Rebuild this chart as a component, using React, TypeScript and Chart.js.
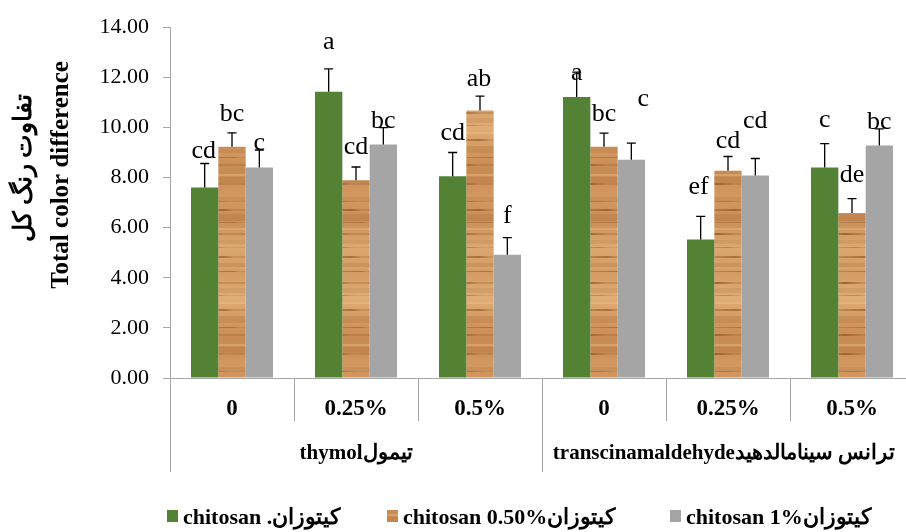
import React, { useEffect, useRef } from 'react';
import { Chart, registerables } from 'chart.js';

Chart.register(...registerables);

// ---------- data ----------
const subCategories = ['0', '0.25%', '0.5%', '0', '0.25%', '0.5%'];
const groupLabels = ['thymolتیمول', 'transcinamaldehydeترانس سینامالدهید'];
const groupSizes = [3, 3];
const seriesNames = ['chitosan .کیتوزان', 'chitosan 0.50%کیتوزان', 'chitosan 1%کیتوزان'];
const chitosan0 = [7.6, 11.42, 8.05, 11.21, 5.53, 8.4];
const chitosan050 = [9.23, 7.89, 10.68, 9.23, 8.27, 6.58];
const chitosan1 = [8.4, 9.32, 4.92, 8.71, 8.08, 9.28];
const err0 = [0.96, 0.92, 0.95, 1.0, 0.92, 0.95];
const err050 = [0.55, 0.53, 0.57, 0.54, 0.57, 0.58];
const err1 = [0.7, 0.67, 0.68, 0.66, 0.68, 0.66];
const letters0 = ['cd', 'a', 'cd', 'a', 'ef', 'c'];
const letters050 = ['bc', 'cd', 'ab', 'bc', 'cd', 'de'];
const letters1 = ['c', 'bc', 'f', 'c', 'cd', 'bc'];
const yTicksMin = 0;
const yTicksMax = 14;
const yTicksStep = 2;
const yTitleFa = 'تفاوت رنگ کل';
const yTitleEn = 'Total color difference';

// ---------- layout / style ----------
const W = 920;
const H = 532;
// label offsets [dx, dy above error-bar top] in px
const labelOffsets = [
  [[-1, 6], [0, 20], [0, 12], [0, -8], [-2, 22], [0, 17]],
  [[0, 12], [0, 13], [-1, 10], [0, 12], [0, 8], [0, 17]],
  [[0, 0], [0, 0], [0, 15], [12, 37], [0, 30], [0, 0]],
];
const SERIF = "'Liberation Serif', 'Times New Roman', 'DejaVu Serif', serif";
const GREEN = '#548235';
const GREY = '#a5a5a5';
const AXIS = '#a6a6a6';

function makeWood(): CanvasPattern | string {
  const PW = 64;
  const PH = 170;
  const c = document.createElement('canvas');
  c.width = PW;
  c.height = PH;
  const g = c.getContext('2d');
  if (!g) return '#d49a63';
  const grad = g.createLinearGradient(0, 0, 0, PH);
  grad.addColorStop(0, '#c88a53');
  grad.addColorStop(0.15, '#d39860');
  grad.addColorStop(0.3, '#cb8e57');
  grad.addColorStop(0.45, '#dca871');
  grad.addColorStop(0.6, '#d49b63');
  grad.addColorStop(0.75, '#e0ad76');
  grad.addColorStop(0.9, '#d2965e');
  grad.addColorStop(1, '#c88a53');
  g.fillStyle = grad;
  g.fillRect(0, 0, PW, PH);
  const bands: number[][] = [[7, 6, 0.16], [27, 4, 0.12], [44, 7, 0.18], [70, 4, 0.12], [93, 6, 0.16], [118, 5, 0.14], [146, 7, 0.18]];
  for (const [y, h, a] of bands) {
    g.fillStyle = `rgba(150,90,40,${a})`;
    g.fillRect(0, y, PW, h);
  }
  const streaks: number[][] = [
    [13, 2, 0.55], [31, 1, 0.4], [39, 2, 0.5], [52, 1, 0.35], [63, 2, 0.6], [77, 1, 0.35],
    [86, 2, 0.5], [101, 1, 0.45], [112, 2, 0.6], [125, 1, 0.35], [139, 2, 0.5], [157, 1, 0.4],
    [164, 2, 0.5],
  ];
  streaks.forEach(([y, h, a], k) => {
    const lg = g.createLinearGradient(0, 0, PW, 0);
    const shift = (k % 4) * 0.15;
    lg.addColorStop(0, `rgba(115,62,20,${a * 0.4})`);
    lg.addColorStop(0.2 + shift, `rgba(115,62,20,${a})`);
    lg.addColorStop(0.5 + shift / 2, `rgba(115,62,20,${a * 0.3})`);
    lg.addColorStop(1, `rgba(115,62,20,${a * 0.4})`);
    g.fillStyle = lg;
    g.fillRect(0, y, PW, h);
  });
  const lights: number[][] = [[4, 2], [58, 2], [97, 2], [132, 2]];
  for (const [y, h] of lights) {
    g.fillStyle = 'rgba(240,200,145,0.35)';
    g.fillRect(0, y, PW, h);
  }
  return g.createPattern(c, 'repeat') || '#d49a63';
}

export default function App() {
  const ref = useRef<HTMLCanvasElement | null>(null);

  useEffect(() => {
    const canvas = ref.current;
    if (!canvas) return;
    document.body.style.margin = '0';
    const wood = makeWood();
    const errs = [err0, err050, err1];
    const letters = [letters0, letters050, letters1];
    const colors: any[] = [GREEN, wood, GREY];

    const decor = {
      id: 'decor',
      afterDatasetsDraw(chart: any) {
        const ctx = chart.ctx as CanvasRenderingContext2D;
        const y = chart.scales.y;
        ctx.save();
        chart.data.datasets.forEach((ds: any, di: number) => {
          const meta = chart.getDatasetMeta(di);
          meta.data.forEach((bar: any, i: number) => {
            const v = ds.data[i];
            const top = y.getPixelForValue(v + errs[di][i]);
            const by = y.getPixelForValue(v);
            ctx.strokeStyle = '#000';
            ctx.lineWidth = 1.3;
            ctx.beginPath();
            ctx.moveTo(bar.x, by);
            ctx.lineTo(bar.x, top);
            ctx.moveTo(bar.x - 4.5, top);
            ctx.lineTo(bar.x + 4.5, top);
            ctx.stroke();
          });
        });
        ctx.fillStyle = '#000';
        ctx.font = `26px ${SERIF}`;
        ctx.textAlign = 'center';
        ctx.textBaseline = 'alphabetic';
        chart.data.datasets.forEach((ds: any, di: number) => {
          const meta = chart.getDatasetMeta(di);
          meta.data.forEach((bar: any, i: number) => {
            const top = y.getPixelForValue(ds.data[i] + errs[di][i]);
            const [dx, dy] = labelOffsets[di][i];
            ctx.fillText(letters[di][i], bar.x + dx, top - dy);
          });
        });
        ctx.restore();
      },
      afterDraw(chart: any) {
        const ctx = chart.ctx as CanvasRenderingContext2D;
        const area = chart.chartArea;
        const n = subCategories.length;
        const cw = (area.right - area.left) / n;
        ctx.save();
        ctx.strokeStyle = AXIS;
        ctx.lineWidth = 1;
        const bounds: number[] = [0];
        let acc = 0;
        groupSizes.forEach((s) => { acc += s; bounds.push(acc); });
        for (let k = 0; k <= n; k++) {
          const x = Math.round(area.left + k * cw) + 0.5;
          const isGroup = bounds.includes(k);
          ctx.beginPath();
          ctx.moveTo(x, area.bottom);
          ctx.lineTo(x, area.bottom + (isGroup ? 94 : 43));
          ctx.stroke();
        }
        ctx.fillStyle = '#000';
        ctx.textAlign = 'center';
        ctx.textBaseline = 'alphabetic';
        ctx.font = `bold 23px ${SERIF}`;
        subCategories.forEach((s, k) => {
          ctx.fillText(s, area.left + (k + 0.5) * cw, area.bottom + 37);
        });
        ctx.font = `bold 21px ${SERIF}`;
        groupLabels.forEach((g, gi) => {
          const c = (bounds[gi] + bounds[gi + 1]) / 2;
          ctx.fillText(g, area.left + c * cw - (gi === 1 ? 4 : 0), area.bottom + 81);
        });
        ctx.font = `bold 25px ${SERIF}`;
        ctx.save();
        ctx.translate(68, 175);
        ctx.rotate(-Math.PI / 2);
        ctx.fillText(yTitleEn, 0, 0);
        ctx.restore();
        ctx.save();
        ctx.translate(31, 168);
        ctx.rotate(-Math.PI / 2);
        ctx.fillText(yTitleFa, 0, 0);
        ctx.restore();
        const lx = [167, 387, 670];
        ctx.font = `bold 22px ${SERIF}`;
        ctx.textAlign = 'left';
        seriesNames.forEach((name, i) => {
          ctx.fillStyle = colors[i];
          ctx.fillRect(lx[i], 510, 11, 12);
          ctx.fillStyle = '#000';
          ctx.fillText(name, lx[i] + 16, 524);
        });
        ctx.restore();
      },
    };

    const chart = new Chart(canvas, {
      type: 'bar',
      data: {
        labels: subCategories,
        datasets: [
          { label: seriesNames[0], data: chitosan0, backgroundColor: GREEN },
          { label: seriesNames[1], data: chitosan050, backgroundColor: wood as any },
          { label: seriesNames[2], data: chitosan1, backgroundColor: GREY },
        ],
      },
      options: {
        responsive: false,
        animation: false,
        devicePixelRatio: 1,
        datasets: { bar: { categoryPercentage: 0.661, barPercentage: 1 } },
        layout: { padding: { top: 22, right: 6, left: 0, bottom: 0 } },
        plugins: { legend: { display: false }, tooltip: { enabled: false }, title: { display: false } },
        scales: {
          x: {
            grid: { display: false },
            border: { display: true, color: AXIS, width: 1 },
            ticks: { display: false },
            afterFit: (s: any) => { s.height = 154; },
          },
          y: {
            min: yTicksMin,
            max: yTicksMax,
            ticks: {
              stepSize: yTicksStep,
              color: '#000',
              padding: 14,
              font: { family: SERIF, size: 22 },
              callback: (v: any) => Number(v).toFixed(2),
            },
            grid: { drawOnChartArea: false, drawTicks: true, tickLength: 7, color: AXIS },
            border: { display: true, color: AXIS, width: 1 },
            afterFit: (s: any) => { s.width = 170; },
          },
        },
      },
      plugins: [decor],
    });
    return () => chart.destroy();
  }, []);

  return (
    <div style={{ position: 'fixed', left: 0, top: 0, width: 906, height: 532, overflow: 'hidden', background: '#fff' }}>
      <canvas ref={ref} width={W} height={H} style={{ display: 'block' }} />
    </div>
  );
}
